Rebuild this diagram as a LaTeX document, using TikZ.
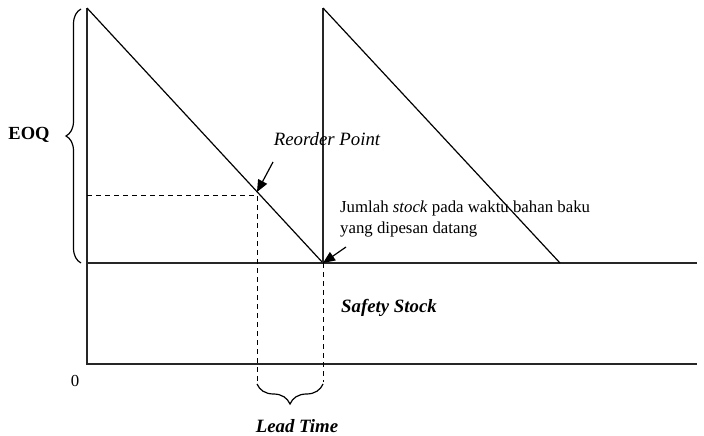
\documentclass[tikz,border=0pt]{standalone}
\usepackage{fontspec}
\setmainfont{Liberation Serif}
\usetikzlibrary{arrows.meta,decorations.pathreplacing}
\begin{document}
\begin{tikzpicture}[x=1pt,y=-1pt,
  axis/.style={line width=1.8pt,draw=black!85},
  saw/.style={line width=1.2pt},
  dashline/.style={line width=1pt,dash pattern=on 5pt off 4pt},
  pointer/.style={line width=1.2pt,-{Triangle[length=12pt,width=10pt]}},
  brc/.style={line width=1.2pt,decorate,decoration={brace,amplitude=#1}},
  lbl/.style={inner sep=0pt,font=\fontsize{16.8}{21}\selectfont},
  itl/.style={inner sep=0pt,font=\fontsize{18.8}{22}\selectfont\itshape}]
\useasboundingbox (0,0) rectangle (704,436);
% key points
\coordinate (o) at (87,364);
\coordinate (ytop) at (87,8);
\coordinate (xend) at (697,364);
\coordinate (ssl) at (87,263);
\coordinate (ssr) at (697,263);
\coordinate (b1) at (323,263);
\coordinate (t2) at (323,8);
\coordinate (b2) at (560,263);
\coordinate (rop) at (257,192);
\coordinate (ropl) at (87,195);
\coordinate (ropd) at (257,382);
\coordinate (b1d) at (323,382);
% axes
\draw[axis] (ytop) -- (o) -- (xend);
\draw[axis] (ssl) -- (ssr);
% sawtooth
\draw[saw] (ytop) -- (b1);
\draw[axis] (b1) -- (t2);
\draw[saw] (t2) -- (b2);
% dashed
\draw[dashline] (ropl) -- (257,195) -- (ropd);
\draw[dashline] (b1) -- (b1d);
% braces
\draw[brc=15pt] (81,263) -- (81,9);
\draw[brc=20pt] (323,384) -- (257,384);
% labels
\node[lbl,font=\fontsize{18.5}{22}\selectfont\bfseries] (eoq) at (29,135) {EOQ};
\node[lbl] (zero) at (75,381) {0};
\node[itl] (roplbl) at (327,139) {Reorder Point};
\node[lbl,align=left,anchor=north west] (jml) at (340,201) {Jumlah \textit{stock} pada waktu bahan baku\\yang dipesan datang};
\node[itl,font=\fontsize{18.8}{22}\selectfont\bfseries\itshape] (ss) at (389,308) {Safety Stock};
\node[itl,font=\fontsize{18.8}{22}\selectfont\bfseries\itshape,anchor=base] (lt) at (297,432) {Lead Time};
% pointers
\coordinate (p1) at (273,162);
\coordinate (p2) at (346,247);
\draw[pointer] (p1) -- (rop);
\draw[pointer] (p2) -- (b1);
\end{tikzpicture}
\end{document}
